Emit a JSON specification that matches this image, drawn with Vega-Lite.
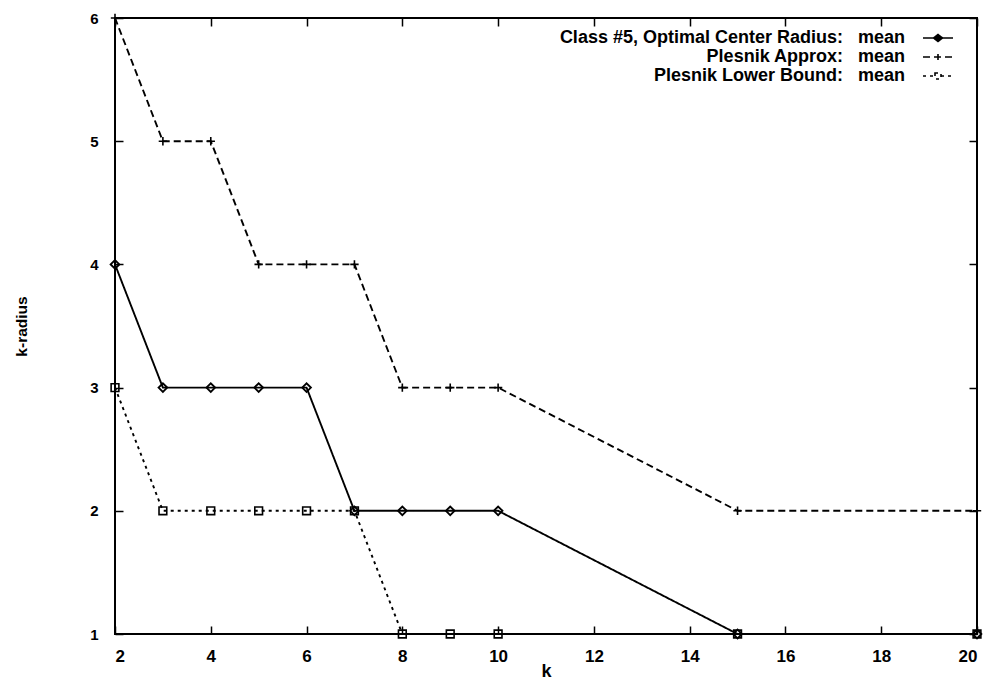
{
  "$schema": "https://vega.github.io/schema/vega-lite/v6.json",
  "width": 862,
  "height": 616,
  "autosize": {"type": "none"},
  "padding": {"left": 115, "top": 18, "right": 16, "bottom": 47},
  "background": "white",
  "config": {
    "font": "Liberation Sans",
    "view": {"stroke": "black", "strokeWidth": 2},
    "axis": {
      "grid": false,
      "domain": false,
      "tickColor": "black",
      "tickSize": -8,
      "tickWidth": 1.5,
      "labelColor": "black",
      "labelFont": "Liberation Sans",
      "labelFontWeight": "bold",
      "titleColor": "black",
      "titleFont": "Liberation Sans",
      "titleFontWeight": "bold"
    }
  },
  "data": {
    "values": [
      {"series": "Class #5, Optimal Center Radius:  mean", "k": 2, "r": 4},
      {"series": "Class #5, Optimal Center Radius:  mean", "k": 3, "r": 3},
      {"series": "Class #5, Optimal Center Radius:  mean", "k": 4, "r": 3},
      {"series": "Class #5, Optimal Center Radius:  mean", "k": 5, "r": 3},
      {"series": "Class #5, Optimal Center Radius:  mean", "k": 6, "r": 3},
      {"series": "Class #5, Optimal Center Radius:  mean", "k": 7, "r": 2},
      {"series": "Class #5, Optimal Center Radius:  mean", "k": 8, "r": 2},
      {"series": "Class #5, Optimal Center Radius:  mean", "k": 9, "r": 2},
      {"series": "Class #5, Optimal Center Radius:  mean", "k": 10, "r": 2},
      {"series": "Class #5, Optimal Center Radius:  mean", "k": 15, "r": 1},
      {"series": "Class #5, Optimal Center Radius:  mean", "k": 20, "r": 1},
      {"series": "Plesnik Approx:  mean", "k": 2, "r": 6},
      {"series": "Plesnik Approx:  mean", "k": 3, "r": 5},
      {"series": "Plesnik Approx:  mean", "k": 4, "r": 5},
      {"series": "Plesnik Approx:  mean", "k": 5, "r": 4},
      {"series": "Plesnik Approx:  mean", "k": 6, "r": 4},
      {"series": "Plesnik Approx:  mean", "k": 7, "r": 4},
      {"series": "Plesnik Approx:  mean", "k": 8, "r": 3},
      {"series": "Plesnik Approx:  mean", "k": 9, "r": 3},
      {"series": "Plesnik Approx:  mean", "k": 10, "r": 3},
      {"series": "Plesnik Approx:  mean", "k": 15, "r": 2},
      {"series": "Plesnik Approx:  mean", "k": 20, "r": 2},
      {"series": "Plesnik Lower Bound:  mean", "k": 2, "r": 3},
      {"series": "Plesnik Lower Bound:  mean", "k": 3, "r": 2},
      {"series": "Plesnik Lower Bound:  mean", "k": 4, "r": 2},
      {"series": "Plesnik Lower Bound:  mean", "k": 5, "r": 2},
      {"series": "Plesnik Lower Bound:  mean", "k": 6, "r": 2},
      {"series": "Plesnik Lower Bound:  mean", "k": 7, "r": 2},
      {"series": "Plesnik Lower Bound:  mean", "k": 8, "r": 1},
      {"series": "Plesnik Lower Bound:  mean", "k": 9, "r": 1},
      {"series": "Plesnik Lower Bound:  mean", "k": 10, "r": 1},
      {"series": "Plesnik Lower Bound:  mean", "k": 15, "r": 1},
      {"series": "Plesnik Lower Bound:  mean", "k": 20, "r": 1}
    ]
  },
  "resolve": {"axis": {"x": "independent", "y": "independent"}},
  "layer": [
    {
      "mark": {"type": "line", "color": "black", "strokeWidth": 1.9},
      "encoding": {
        "x": {
          "field": "k", "type": "quantitative",
          "scale": {"domain": [2, 20], "nice": false, "zero": false},
          "axis": {"values": [2,4,6,8,10,12,14,16,18,20], "title": "k", "labelFontSize": 17, "titleFontSize": 18, "labelPadding": 22, "titlePadding": -2}
        },
        "y": {
          "field": "r", "type": "quantitative",
          "scale": {"domain": [1, 6], "nice": false, "zero": false},
          "axis": {"values": [1,2,3,4,5,6], "title": "k-radius", "labelFontSize": 15, "titleFontSize": 15.5, "labelPadding": 25, "titlePadding": 60}
        },
        "strokeDash": {
          "field": "series", "type": "nominal",
          "scale": {
            "domain": ["Class #5, Optimal Center Radius:  mean", "Plesnik Approx:  mean", "Plesnik Lower Bound:  mean"],
            "range": [[1, 0], [7, 4], [3, 4]]
          },
          "legend": {
            "title": null,
            "orient": "none",
            "legendX": 814,
            "legendY": 11,
            "symbolSize": 100,
            "symbolStrokeWidth": 1.6,
            "symbolStrokeColor": "black",
            "labelAlign": "right",
            "labelOffset": -42,
            "labelFontSize": 18,
            "labelFontWeight": "bold",
            "labelColor": "black",
            "labelLimit": 500,
            "labelExpr": "replace(datum.label, ':  ', ':\u00a0\u00a0\u00a0')",
            "rowPadding": 1,
            "encode": {
              "symbols": {
                "update": {
                  "shape": {"signal": "datum.value === 'Plesnik Approx:  mean' ? 'M-3,0L3,0M0,-0.6L0,0.6' : datum.value === 'Plesnik Lower Bound:  mean' ? 'M-3,0L-0.6,0M0.6,0L3,0M-0.6,-0.6L0.6,-0.6L0.6,0.6L-0.6,0.6Z' : 'M-3,0L3,0M-0.9,0L0,-0.7L0.9,0L0,0.7Z'"},
                  "fill": {"signal": "datum.value === 'Class #5, Optimal Center Radius:  mean' ? 'black' : 'transparent'"},
                  "stroke": {"value": "black"}
                }
              }
            }
          }
        }
      }
    },
    {
      "transform": [{"filter": "datum.series === 'Class #5, Optimal Center Radius:  mean'"}],
      "mark": {"type": "point", "shape": "diamond", "filled": false, "color": "black", "strokeWidth": 1.9, "size": 75, "opacity": 1},
      "encoding": {
        "x": {"field": "k", "type": "quantitative", "axis": null},
        "y": {"field": "r", "type": "quantitative", "axis": null}
      }
    },
    {
      "transform": [{"filter": "datum.series === 'Plesnik Approx:  mean'"}],
      "mark": {"type": "point", "shape": "M-1,0L1,0M0,-1L0,1", "filled": false, "color": "black", "strokeWidth": 1.6, "size": 70, "opacity": 1},
      "encoding": {
        "x": {"field": "k", "type": "quantitative", "axis": null},
        "y": {"field": "r", "type": "quantitative", "axis": null}
      }
    },
    {
      "transform": [{"filter": "datum.series === 'Plesnik Lower Bound:  mean'"}],
      "mark": {"type": "point", "shape": "square", "filled": false, "color": "black", "strokeWidth": 1.6, "size": 60, "opacity": 1},
      "encoding": {
        "x": {"field": "k", "type": "quantitative", "axis": null},
        "y": {"field": "r", "type": "quantitative", "axis": null}
      }
    },
    {
      "mark": {"type": "point", "opacity": 0},
      "encoding": {
        "x": {"field": "k", "type": "quantitative", "axis": {"orient": "top", "values": [2,4,6,8,10,12,14,16,18,20], "labels": false, "title": null}},
        "y": {"field": "r", "type": "quantitative", "axis": {"orient": "right", "values": [1,2,3,4,5,6], "labels": false, "title": null}}
      }
    }
  ]
}
